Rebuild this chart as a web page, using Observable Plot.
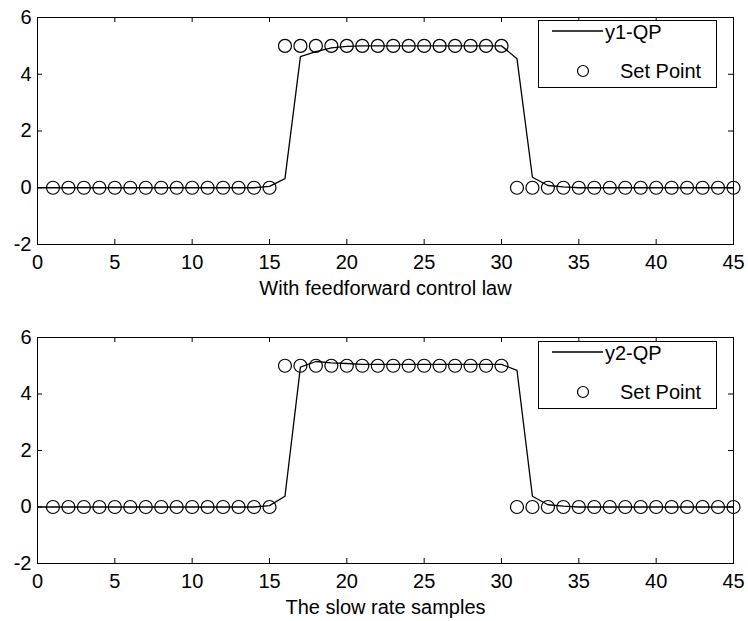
<!DOCTYPE html>
<html>
<head>
<meta charset="utf-8">
<script src="https://cdn.jsdelivr.net/npm/d3@7"></script>
<script src="https://cdn.jsdelivr.net/npm/@observablehq/plot@0.6"></script>
<style>
  html, body { margin: 0; padding: 0; background: #fff; }
  #wrap { position: relative; width: 748px; height: 621px; background: #fff; font-family: "Liberation Sans", Arial, sans-serif; }
  .panel { position: absolute; left: 0; }
  .legend { position: absolute; left: 538px; width: 179px; height: 68px; box-sizing: border-box; border: 1px solid #000; background: #fff; }
  .legend svg { display: block; overflow: visible; }
</style>
</head>
<body>
<div id="wrap"></div>
<script>
// ---- data ----
const xLine = [0,1,2,3,4,5,6,7,8,9,10,11,12,13,14,15,16,17,18,19,20,21,22,23,24,25,26,27,28,29,30,31,32,33,34,35,36,37,38,39,40,41,42,43,44,45];
const y1QP = [0,0,0,0,0,0,0,0,0,0,0,0,0,0,0,0.05,0.32,4.62,4.8,4.93,4.98,5,5,5,5,5,5,5,5,5,5,4.55,0.37,0.08,0.03,0,0,0,0,0,0,0,0,0,0,0];
const y2QP = [0,0,0,0,0,0,0,0,0,0,0,0,0,0,0,0.05,0.38,4.95,5.15,5.1,5.08,5.05,5.05,5.05,5.05,5.05,5.05,5.05,5.05,5.05,5.05,4.84,0.38,0.08,0.03,0,0,0,0,0,0,0,0,0,0,0];
const xSet = [1,2,3,4,5,6,7,8,9,10,11,12,13,14,15,16,17,18,19,20,21,22,23,24,25,26,27,28,29,30,31,32,33,34,35,36,37,38,39,40,41,42,43,44,45];
const setPoint = [0,0,0,0,0,0,0,0,0,0,0,0,0,0,0,5,5,5,5,5,5,5,5,5,5,5,5,5,5,5,0,0,0,0,0,0,0,0,0,0,0,0,0,0,0];
const xTicks = [0,5,10,15,20,25,30,35,40,45];
const yTicks = [-2,0,2,4,6];
const captions = ["With feedforward control law", "The slow rate samples"];
const seriesNames = ["y1-QP", "y2-QP"];
const setPointName = "Set Point";

// ---- drawing ----
const W = 748, ML = 37, MR = 15;
const FONT = '"Liberation Sans", Arial, sans-serif';

function panel(yData, caption, height, marginTop, marginBottom) {
  const fh = height - marginTop - marginBottom;
  const fw = W - ML - MR;
  const lineData = xLine.map((x, i) => ({x, y: yData[i]}));
  const setData = xSet.map((x, i) => ({x, y: setPoint[i]}));
  return Plot.plot({
    width: W, height, marginLeft: ML, marginRight: MR, marginTop, marginBottom,
    style: {fontFamily: FONT, fontSize: "20px", color: "#000", background: "#fff", overflow: "visible"},
    x: {domain: [0, 45]},
    y: {domain: [-2, 6]},
    marks: [
      Plot.axisX(xTicks, {tickSize: 0, tickPadding: 10, label: null, tickFormat: d => String(d), fontSize: 20}),
      Plot.axisY(yTicks, {tickSize: 0, tickPadding: 6, label: null, tickFormat: d => String(d), fontSize: 20}),
      Plot.tickX(xTicks, {x: d => d, insetTop: fh - 5, stroke: "#000"}),
      Plot.tickX(xTicks, {x: d => d, insetBottom: fh - 5, stroke: "#000"}),
      Plot.tickY(yTicks, {y: d => d, insetRight: fw - 5, stroke: "#000"}),
      Plot.tickY(yTicks, {y: d => d, insetLeft: fw - 5, stroke: "#000"}),
      Plot.line(lineData, {x: "x", y: "y", stroke: "#000", strokeWidth: 1.3}),
      Plot.dot(setData, {x: "x", y: "y", r: 6.5, stroke: "#000", strokeWidth: 1.2, fill: "none"}),
      Plot.frame({stroke: "#000", strokeWidth: 1}),
      Plot.text([caption], {frameAnchor: "bottom", dy: 44, text: d => d, lineAnchor: "middle", fontSize: 20, fill: "#000"})
    ]
  });
}

function legend(name, top) {
  const div = document.createElement("div");
  div.className = "legend";
  div.style.top = top + "px";
  div.innerHTML =
    `<svg width="177" height="66" font-family='${FONT}' font-size="20">
      <line x1="13" x2="64" y1="10" y2="10" stroke="#000" stroke-width="1.3"/>
      <text x="66" y="18" fill="#000">${name}</text>
      <circle cx="44" cy="50" r="5.5" fill="none" stroke="#000" stroke-width="1.2"/>
      <text x="81" y="57" fill="#000">${setPointName}</text>
    </svg>`;
  return div;
}

const wrap = document.getElementById("wrap");
const p1 = panel(y1QP, captions[0], 310, 17, 66);
p1.classList.add("panel"); p1.style.top = "0px";
const p2 = panel(y2QP, captions[1], 311, 27, 58);
p2.classList.add("panel"); p2.style.top = "310px";
wrap.appendChild(p1);
wrap.appendChild(p2);
wrap.appendChild(legend(seriesNames[0], 20));
wrap.appendChild(legend(seriesNames[1], 341));
</script>
</body>
</html>
